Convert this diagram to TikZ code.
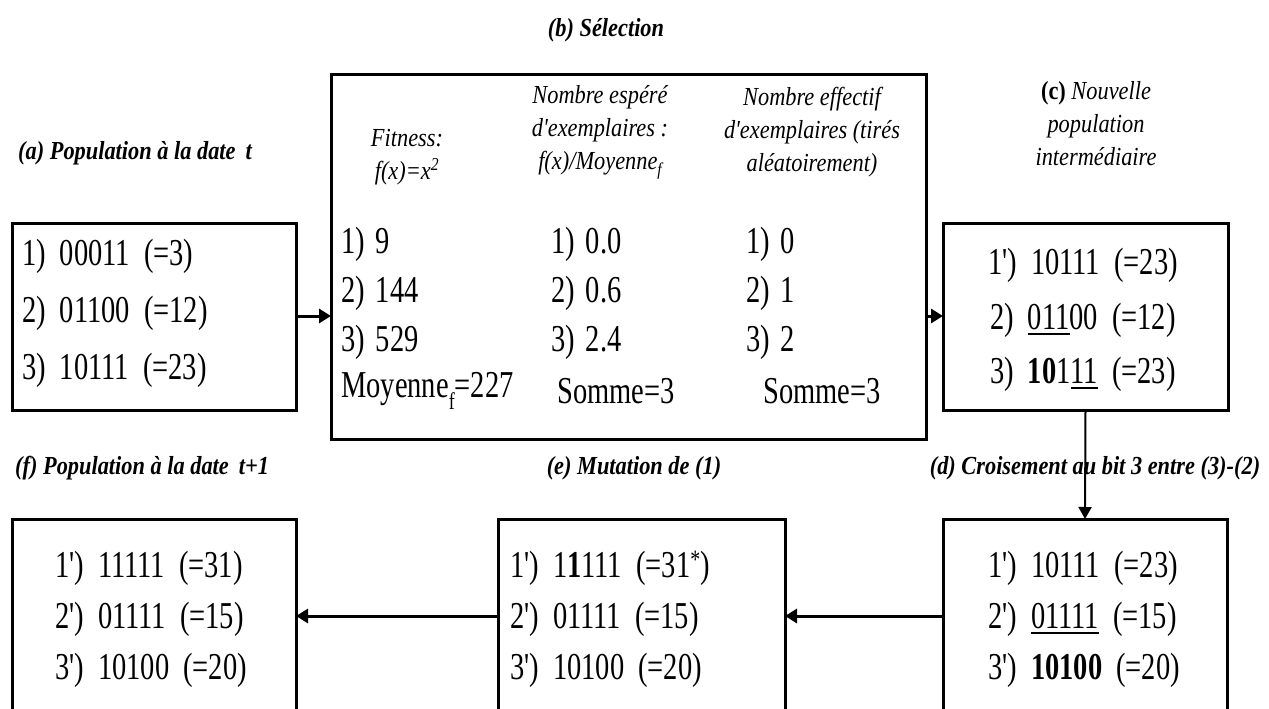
\documentclass[tikz,border=0pt]{standalone}
\usepackage{fontspec}
\setmainfont{Liberation Serif}
\newfontfamily\rowf[FakeStretch=0.75]{Liberation Serif}
\newfontfamily\labf[FakeStretch=0.86]{Liberation Serif}
\usetikzlibrary{arrows.meta}
\newcommand\gp{\hspace{14pt}}
\newcommand\gb{\hspace{11pt}}
\newsavebox\ulbox
\newcommand\ulx[1]{\sbox\ulbox{#1}\rlap{\raisebox{-6pt}{\rule{\wd\ulbox}{2.5pt}}}\usebox\ulbox}
\begin{document}
\begin{tikzpicture}[x=1pt,y=-1pt,
  box/.style={draw,line width=3pt,inner sep=0pt,outer sep=0pt,anchor=north west},
  row/.style={inner sep=0pt,anchor=west,font=\rowf\fontsize{38}{38}\selectfont},
  lab/.style={inner sep=0pt,font=\labf\fontsize{26}{26}\selectfont\bfseries\itshape},
  hdr/.style={inner sep=0pt,align=center,font=\labf\fontsize{26}{33}\selectfont\itshape},
  conn/.style={line width=3pt,-{Triangle[length=12pt,width=14pt]}},
  thinconn/.style={line width=2pt,-{Triangle[length=12pt,width=13pt]}}
]
\useasboundingbox (0,0) rectangle (1269,709);
\clip (0,0) rectangle (1269,709);
\fill[white] (0,0) rectangle (1269,709);

% boxes
\node[box,minimum width=284pt,minimum height=187pt] (A) at (12,223) {};
\node[box,minimum width=595pt,minimum height=364pt] (B) at (331,75) {};
\node[box,minimum width=285pt,minimum height=187pt] (C) at (943,223) {};
\node[box,minimum width=284pt,minimum height=215pt] (D) at (943,519) {};
\node[box,minimum width=287pt,minimum height=215pt] (E) at (498,519) {};
\node[box,minimum width=284pt,minimum height=215pt] (F) at (12,519) {};

% connector levels
\coordinate (ab) at (0,316);
\coordinate (de) at (0,616);

\draw[conn] (A.east |- ab) -- (B.west |- ab);
\draw[conn] (B.east |- ab) -- (C.west |- ab);
\draw[thinconn] (C.south) -- (D.north);
\draw[conn] (D.west |- de) -- (E.east |- de);
\draw[conn] (E.west |- de) -- (F.east |- de);

% labels
\node[lab] (lb) at (606,30) {(b) Sélection};
\node[lab,anchor=west] (la) at (18,153) {(a) Population à la date\hspace{10pt}t};
\node[hdr] (lc) at (1096,124) {{\upshape\bfseries (c)} Nouvelle\\population\\intermédiaire};
\node[lab] (ld) at (1095,468) {(d) Croisement au bit 3 entre (3)-(2)};
\node[lab] (le) at (634,468) {(e) Mutation de (1)};
\node[lab,anchor=west] (lf) at (15,468) {(f) Population à la date\hspace{10pt}t+1};

% box A
\node[row] (a1) at (22,256) {1)\gp 00011\gp(=3)};
\node[row] (a2) at (22,313) {2)\gp 01100\gp(=12)};
\node[row] (a3) at (22,370) {3)\gp 10111\gp(=23)};

% box B headers
\node[hdr] (h1) at (407,157) {Fitness:\\f(x)=x\textsuperscript{2}};
\node[hdr] (h2) at (600,132) {Nombre espéré\\d'exemplaires :\\f(x)/Moyenne\raisebox{-6pt}{\fontsize{18}{18}\selectfont f}};
\node[hdr] (h3) at (812,132) {Nombre effectif\\d'exemplaires (tirés\\aléatoirement)};

% box B rows
\node[row] (b11) at (341,244) {1)\gb 9};
\node[row] (b12) at (341,293) {2)\gb 144};
\node[row] (b13) at (341,342) {3)\gb 529};
\node[row] (b14) at (341,391) {Moyenne\raisebox{-12pt}{\fontsize{24}{24}\selectfont f}=227};
\node[row] (b21) at (551,244) {1)\gb 0.0};
\node[row] (b22) at (551,293) {2)\gb 0.6};
\node[row] (b23) at (551,342) {3)\gb 2.4};
\node[row] (b24) at (557,391) {Somme=3};
\node[row] (b31) at (746,244) {1)\gb 0};
\node[row] (b32) at (746,293) {2)\gb 1};
\node[row] (b33) at (746,342) {3)\gb 2};
\node[row] (b34) at (763,391) {Somme=3};

% box C
\node[row] (c1) at (988,265) {1')\gp 10111\gp(=23)};
\node[row] (c2) at (990,320) {2)\gp \ulx{011}00\gp(=12)};
\node[row] (c3) at (990,374) {3)\gp \textbf{10}1\ulx{11}\gp(=23)};

% box D
\node[row] (d1) at (988,568) {1')\gp 10111\gp(=23)};
\node[row] (d2) at (988,619) {2')\gp \ulx{01111}\gp(=15)};
\node[row] (d3) at (988,670) {3')\gp \textbf{10100}\gp(=20)};

% box E
\node[row] (e1) at (510,568) {1')\gp 1\textbf{1}111\gp(=31\textsuperscript{*})};
\node[row] (e2) at (510,619) {2')\gp 01111\gp(=15)};
\node[row] (e3) at (510,670) {3')\gp 10100\gp(=20)};

% box F
\node[row] (f1) at (55,568) {1')\gp 11111\gp(=31)};
\node[row] (f2) at (55,619) {2')\gp 01111\gp(=15)};
\node[row] (f3) at (55,670) {3')\gp 10100\gp(=20)};
\end{tikzpicture}
\end{document}
